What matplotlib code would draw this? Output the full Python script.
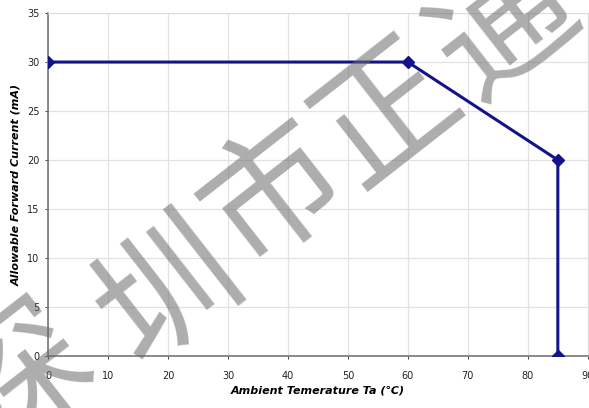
import matplotlib
matplotlib.use("Agg")
import matplotlib.pyplot as plt

# derating curve: allowable forward current vs ambient temperature
temp_c = [0, 60, 85, 85]
current_ma = [30, 30, 20, 0]
x_ticks = [0, 10, 20, 30, 40, 50, 60, 70, 80, 90]
y_ticks = [0, 5, 10, 15, 20, 25, 30, 35]
watermark_chars = ["深", "圳", "市", "正", "通"]

fig = plt.figure(figsize=(5.89, 4.08), dpi=100)
ax = fig.add_axes([0.0815, 0.1275, 0.9165, 0.8405])

ax.plot(temp_c, current_ma, color="#14148a", linewidth=2.2,
        marker="D", markersize=6, zorder=3)

ax.set_xlim(0, 90)
ax.set_ylim(0, 35)
ax.set_xticks(x_ticks)
ax.set_yticks(y_ticks)
ax.grid(True, color="#e2e2e2", linewidth=0.9)
ax.tick_params(labelsize=7, colors="#222222", length=2, width=0.6)
for side in ["left", "bottom"]:
    ax.spines[side].set_color("#777777")
    ax.spines[side].set_linewidth(1.2)
for side in ["top", "right"]:
    ax.spines[side].set_color("#dddddd")
ax.tick_params(axis="x", pad=9)
ax.tick_params(axis="y", pad=4)

ax.set_xlabel("Ambient Temerature Ta (℃)", fontsize=8, fontweight="bold",
              fontstyle="italic", family=["DejaVu Sans", "Noto Sans CJK SC"],
              labelpad=3)
ax.set_ylabel("Allowable Forward Current (mA)", fontsize=8, fontweight="bold",
              fontstyle="italic", labelpad=4)

# diagonal watermark across the figure
wm_pos = [(0.04, 0.07), (0.29, 0.28), (0.47, 0.52), (0.66, 0.72), (0.86, 0.93)]
for ch, (wx, wy) in zip(watermark_chars, wm_pos):
    fig.text(wx, wy, ch, fontsize=100, family="Noto Sans CJK SC",
             fontweight="medium", color="#6a6a6a", alpha=0.55, rotation=38,
             ha="center", va="center", zorder=10)

fig.savefig("out.png", dpi=100)
